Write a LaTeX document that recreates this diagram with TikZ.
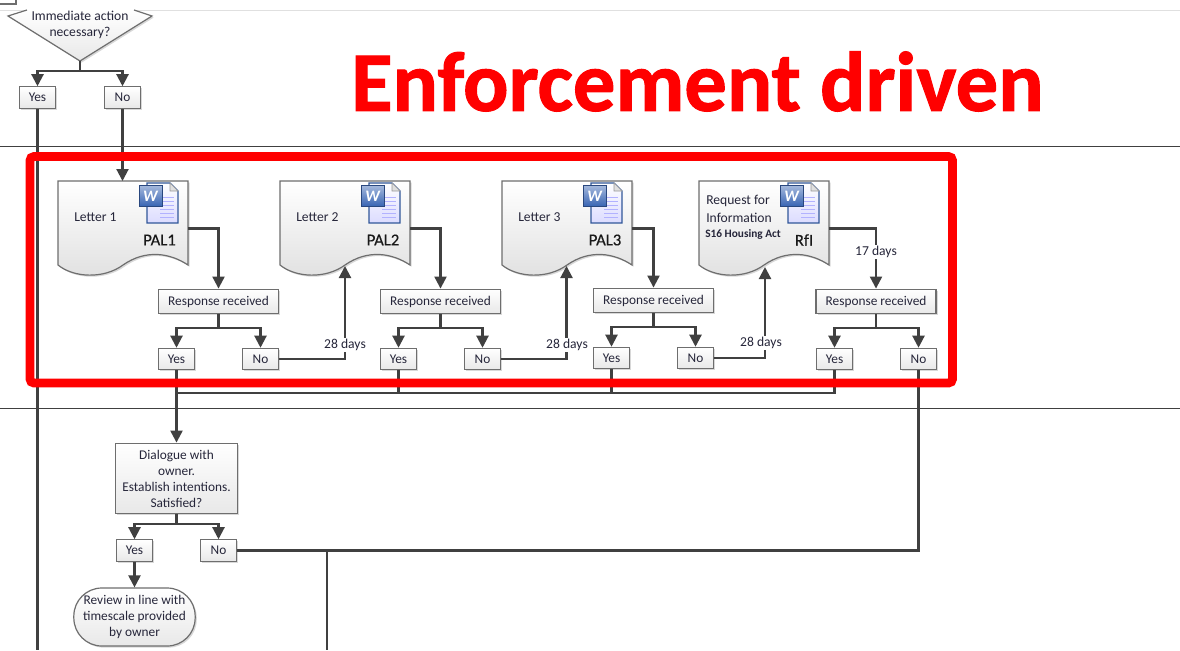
\documentclass[tikz,border=0pt]{standalone}
\usepackage{fontspec}
\setmainfont{Carlito}
\newfontfamily\titlefont[BoldFeatures={FakeBold=1.2}]{Carlito}
\newfontfamily\palfont[UprightFeatures={FakeBold=0.4}]{Carlito}
\usetikzlibrary{arrows.meta,shadows,shapes.geometric,calc}
\definecolor{ln}{HTML}{404040}
\definecolor{bd}{HTML}{6E6E6E}
\definecolor{wblue}{HTML}{3A66B4}
\definecolor{tx}{HTML}{26263A}
\tikzset{
 x=0.75pt,y=-0.75pt,
 conn/.style={draw=ln,line width=1.6pt,-{Triangle[length=9pt,width=9pt]}},
 plainln/.style={draw=ln,line width=1.6pt},
 sep/.style={draw=black!75,line width=0.6pt},
 boxy/.style={draw=bd,line width=0.9pt,top color=white,bottom color=black!9,
   drop shadow={shadow xshift=1.2pt,shadow yshift=-1.2pt,fill=black!30,opacity=.5},
   font=\fontsize{10}{12}\selectfont,align=center,inner sep=0pt,text=tx},
 yn/.style={boxy,minimum width=27pt,minimum height=16pt},
 resp/.style={boxy,minimum width=90pt,minimum height=18.5pt},
 lab/.style={font=\fontsize{10.2}{12}\selectfont,fill=white,inner sep=1pt,text=tx},
 doct/.style={font=\fontsize{10.2}{11}\selectfont,inner sep=0pt,text=tx},
 pal/.style={font=\palfont\fontsize{12.5}{13}\selectfont,inner sep=0pt,text=black!90},
 dochold/.style={minimum width=97.5pt,minimum height=71pt,inner sep=0pt},
}
\newcommand{\docshape}[3]{%
 \begin{scope}[shift={(#2,#3)}]
 \path[draw=bd,line width=0.9pt,top color=white,bottom color=black!12,
   drop shadow={shadow xshift=1.2pt,shadow yshift=-1.2pt,fill=black!30,opacity=.5}]
   (0,0)--(130,0)--(130,84) .. controls (112,72) and (88,68) .. (65,84)
   .. controls (46,98) and (16,97) .. (0,84) -- cycle;
 \node[dochold] (#1) at (65,47.5) {};
 \path[draw=wblue!85!black,line width=.8pt,top color=white,bottom color=blue!14]
   (89,2)--(112,2)--(120,10)--(120,42)--(89,42)--cycle;
 \path[fill=black!12,draw=black!40,line width=.4pt] (112,2)--(112,10)--(120,10)--cycle;
 \foreach \yy in {16,20,24,28,32,36}{\draw[blue!30,line width=.6pt] (102,\yy)--(116,\yy);}
 \path[top color=wblue!45,bottom color=wblue,draw=wblue!70!black,line width=.7pt] (81,4)--(104,4)--(104,25)--(81,25)--cycle;
 \node[font=\fontsize{12}{12}\selectfont\bfseries\itshape,text=white,inner sep=0pt] (#1w) at (92.5,15) {W};
 \end{scope}}
\begin{document}
\begin{tikzpicture}
\useasboundingbox (0,0) rectangle (1180,650);
\fill[white] (0,0) rectangle (1180,650);
\draw[black!12,line width=.6pt] (0,10)--(1180,10);
\coordinate (s1l) at (0,146.5); \coordinate (s1r) at (1180,146.5);
\coordinate (s2l) at (0,408.5); \coordinate (s2r) at (1180,408.5);
\draw[sep] (s1l)--(s1r);
\draw[sep] (s2l)--(s2r);
\draw[bd,line width=.9pt] (0,4)--(16,4)--(16,-2);
\path[draw=bd,line width=.9pt,top color=white,bottom color=black!9,
  drop shadow={shadow xshift=1.2pt,shadow yshift=-1.2pt,fill=black!30,opacity=.5}]
  (27,10)--(8,16)--(80,61)--(152,16)--(134,10);
\coordinate (dec) at (80,61);
\node[font=\fontsize{10.2}{12}\selectfont,align=center,inner sep=0pt,text=tx] (dectext) at (80,24.5) {Immediate action\\necessary?};
\node[yn] (y0) at (37.5,97.5) {Yes};
\node[yn] (n0) at (122.5,97.5) {No};
\docshape{d1}{58}{181}
\docshape{d2}{280}{181}
\docshape{d3}{502}{181}
\docshape{d4}{699}{181}
\node[doct,anchor=west] (t1) at (74,217.5) {Letter 1};
\node[doct,anchor=west] (t2) at (296,217.5) {Letter 2};
\node[doct,anchor=west] (t3) at (518,217.5) {Letter 3};
\node[doct,anchor=west] (t4a) at (706,201) {Request for};
\node[doct,anchor=west] (t4b) at (706,217.5) {Information};
\node[doct,anchor=west,font=\fontsize{8.5}{9}\selectfont\bfseries] (t4c) at (705,234) {S16 Housing Act};
\node[pal] (p1) at (159.5,240) {PAL1};
\node[pal] (p2) at (383,240) {PAL2};
\node[pal] (p3) at (605,240) {PAL3};
\node[pal] (p4) at (804,240) {RfI};
\node[resp] (r1) at (218.5,301.5) {Response received};
\node[resp] (r2) at (440.5,301.5) {Response received};
\node[resp] (r3) at (653.5,300.5) {Response received};
\node[resp] (r4) at (876,301.5) {Response received};
\node[yn] (y1) at (176.5,359) {Yes};
\node[yn] (n1) at (260.5,359) {No};
\node[yn] (y2) at (398.5,359) {Yes};
\node[yn] (n2) at (482.5,359) {No};
\node[yn] (y3) at (611.5,358) {Yes};
\node[yn] (n3) at (695.5,358) {No};
\node[yn] (y4) at (834.5,359) {Yes};
\node[yn] (n4) at (918.5,359) {No};
\node[boxy,minimum width=91pt,minimum height=53pt] (dlg) at (176.5,478.5) {Dialogue with\\owner.\\Establish intentions.\\Satisfied?};
\node[yn] (y5) at (134.5,550.5) {Yes};
\node[yn] (n5) at (218.5,550.5) {No};
\node[boxy,rounded corners=21pt,minimum width=91pt,minimum height=43.5pt] (rev) at (134.5,617) {Review in line with\\timescale provided\\by owner};
\coordinate (e1) at (37.5,650);
\coordinate (e2) at (327,650);
\coordinate (j1) at (176.5,393);
\coordinate (j5) at (327,550.5);
\foreach \from/\a/\b/\yj in {dec/y0/n0/71,r1/y1/n1/328,r2/y2/n2/328,r3/y3/n3/327,r4/y4/n4/328,dlg/y5/n5/524}{
  \draw[plainln] (\from.south) -- (\from.south |- 0,\yj);
  \draw[conn] (\from.south |- 0,\yj) -| (\a.north);
  \draw[conn] (\from.south |- 0,\yj) -| (\b.north);
}
\draw[plainln] (y0.south) -- (e1);
\coordinate (d1in) at (122.5,181);
\draw[conn] (n0.south) -- (d1in);
\draw[conn] (d1.east) -| (r1.north);
\draw[conn] (d2.east) -| (r2.north);
\draw[conn] (d3.east) -| (r3.north);
\draw[conn] (d4.east) -| (r4.north);
\coordinate (t2in) at (345,266);
\coordinate (t3in) at (566.5,266);
\coordinate (t4in) at (765,267);
\draw[conn] (n1.east) -| (t2in);
\draw[conn] (n2.east) -| (t3in);
\draw[conn] (n3.east) -| (t4in);
\node[lab] (l1) at (345,345) {28 days};
\node[lab] (l2) at (567,345) {28 days};
\node[lab] (l3) at (761,343) {28 days};
\node[lab] (l4) at (876,252) {17 days};
\draw[conn] (y1.south) -- (dlg.north);
\draw[plainln] (y2.south) |- (j1);
\draw[plainln] (y3.south) |- (j1);
\draw[plainln] (y4.south) |- (j1);
\draw[plainln] (n4.south) |- (n5.east);
\draw[plainln] (j5) -- (e2);
\draw[conn] (y5.south) -- (rev.north);
\node[font=\titlefont\fontsize{63.5}{70}\selectfont\bfseries,text=red,inner sep=0pt] (title) at (697.5,81.5) {Enforcement driven};
\draw[red,line width=6.6pt,rounded corners=3pt] (30,156.5) rectangle (952.5,383);
\end{tikzpicture}
\end{document}
